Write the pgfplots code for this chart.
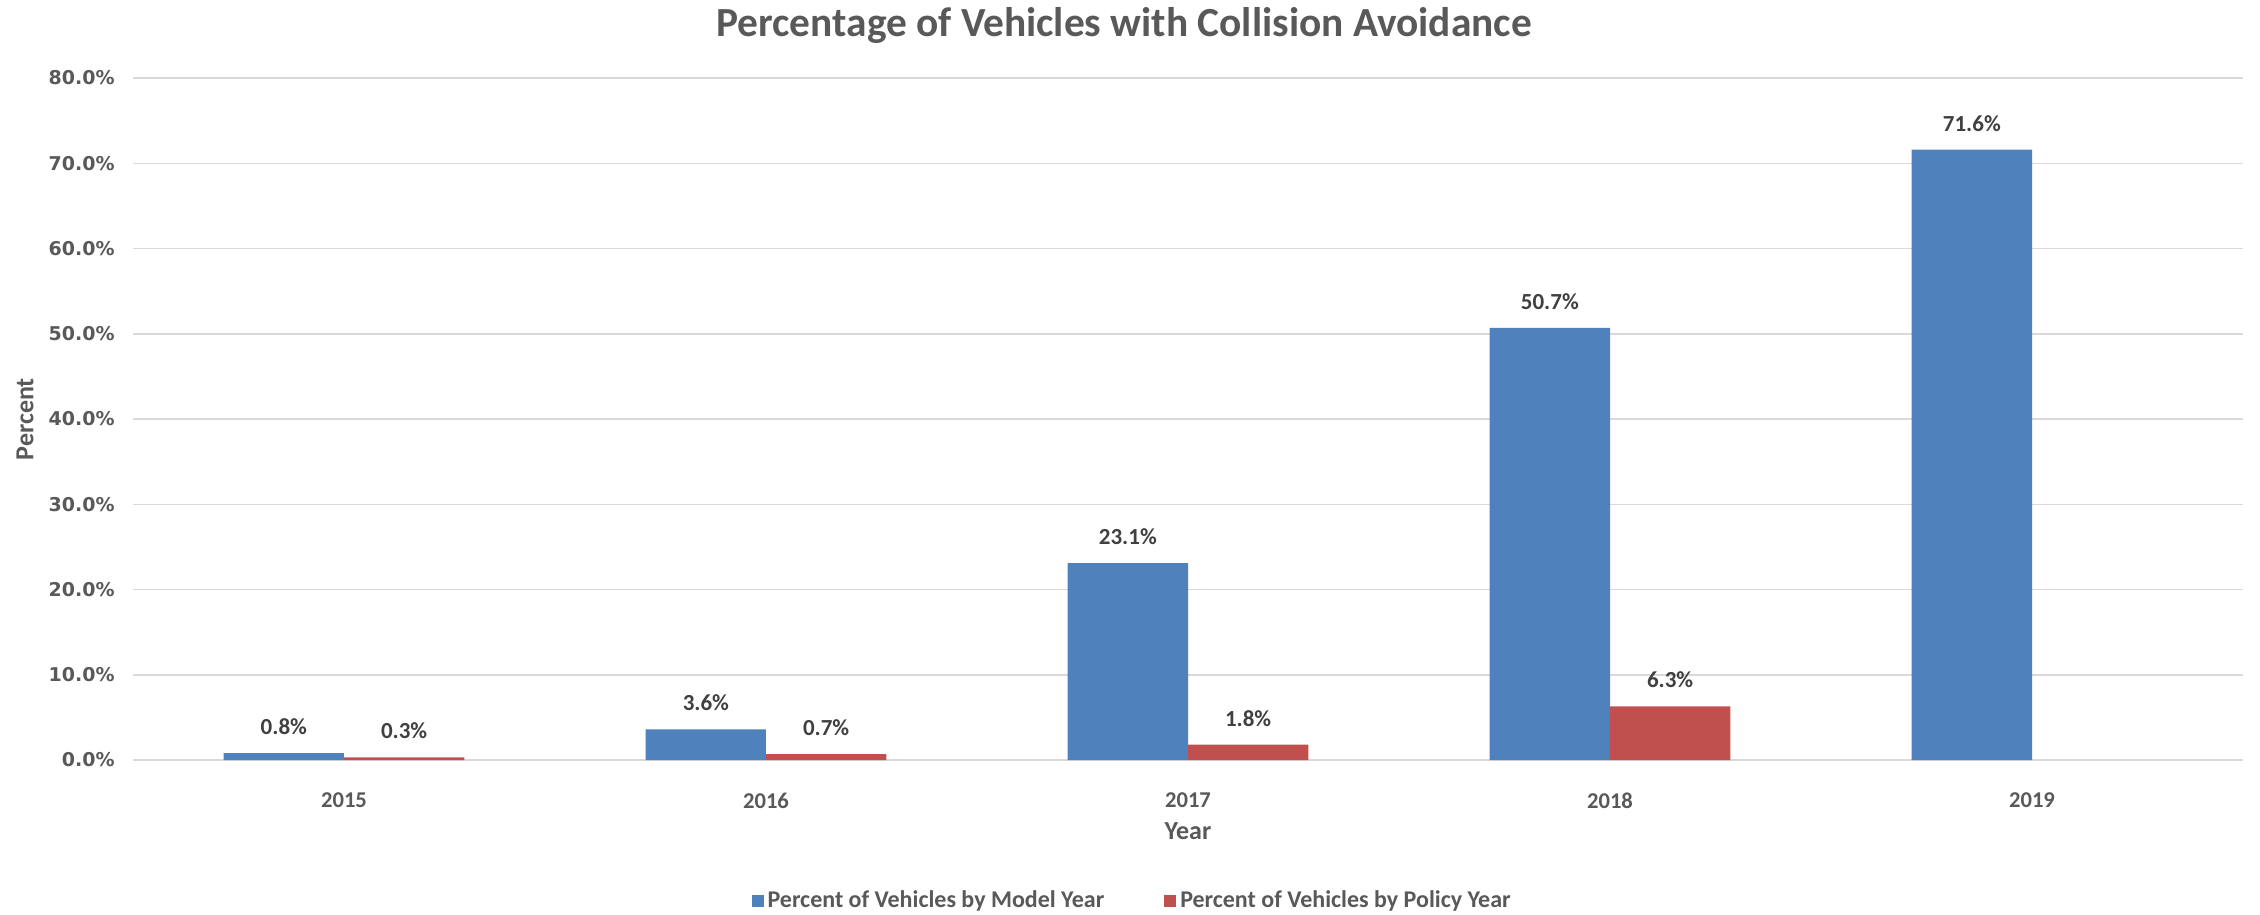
\documentclass[border=0pt]{standalone}
\usepackage{fontspec}
\setmainfont{Carlito}
\newfontfamily\dejavu{DejaVu Sans}
\usepackage{pgfplots}
\pgfplotsset{compat=1.18}
\definecolor{blueS}{HTML}{4F81BD}
\definecolor{redS}{HTML}{C0504D}
\definecolor{txt}{HTML}{595959}
\definecolor{lbl}{HTML}{404040}
\definecolor{gridc}{HTML}{D9D9D9}

\begin{document}
\begin{tikzpicture}
\useasboundingbox (-66.5pt,-77.5pt) rectangle (1063.5pt,380pt);
\begin{axis}[
    at={(0,0)}, anchor=south west,
    scale only axis, width=1055pt, height=341pt,
    ybar, bar width=0.285,
    xmin=-0.5, xmax=4.5, ymin=0, ymax=80,
    xtick={0,...,4}, xticklabels={2015,2016,2017,2018,2019},
    ytick={0,10,...,80},
    ymajorgrids, grid style={gridc, line width=0.75pt},
    axis x line*=bottom, axis y line*=left,
    y axis line style={draw=none},
    x axis line style={gridc, line width=0.75pt},
    tick style={draw=none},
    /pgf/number format/assume math mode=true,
    yticklabel={\pgfmathprintnumber[fixed,fixed zerofill,precision=1]{\tick}\%},
    yticklabel style={font=\dejavu\bfseries\fontsize{9.5}{11}\selectfont, text=txt, anchor=east, inner sep=0pt, xshift=-9pt},
    xticklabel style={font=\bfseries\fontsize{11.3}{13}\selectfont, text=txt, anchor=center, inner sep=0pt, yshift=-16pt},
    xlabel={Year}, ylabel={Percent},
    xlabel style={at={(axis description cs:0.5,0)}, anchor=center, yshift=-35.5pt, font=\bfseries\fontsize{13}{15}\selectfont, text=txt},
    ylabel style={at={(axis description cs:-0.0512,0.5)}, anchor=center, font=\bfseries\fontsize{13}{15}\selectfont, text=txt},
    title={Percentage of Vehicles with Collision Avoidance},
    title style={at={(axis description cs:0.4697,1)}, anchor=center, yshift=20.5pt, font=\bfseries\fontsize{20.7}{24}\selectfont, text=txt},
    point meta=y,
    nodes near coords={\pgfmathprintnumber[fixed,fixed zerofill,precision=1]{\pgfplotspointmeta}\%},
    every node near coord/.append style={font=\bfseries\fontsize{11.5}{13}\selectfont, text=lbl, anchor=south, inner sep=0pt, yshift=9pt},
    legend style={at={(axis description cs:0.474,-0.2067)}, anchor=center, draw=none, legend columns=2,
        font=\bfseries\fontsize{12}{14}\selectfont, text=txt,
        /tikz/every even column/.append style={column sep=28pt}},
    legend image code/.code={\fill[#1] (0pt,-3pt) rectangle (6pt,3pt);},
]
\addplot[fill=blueS, draw=none, bar shift=-0.1425] coordinates {(0,0.8) (1,3.6) (2,23.1) (3,50.7) (4,71.6)};
\addplot[fill=redS, draw=none, bar shift=0.1425] coordinates {(0,0.3) (1,0.7) (2,1.8) (3,6.3)};
\legend{Percent of Vehicles by Model Year, Percent of Vehicles by Policy Year}
\end{axis}
\end{tikzpicture}
\end{document}
